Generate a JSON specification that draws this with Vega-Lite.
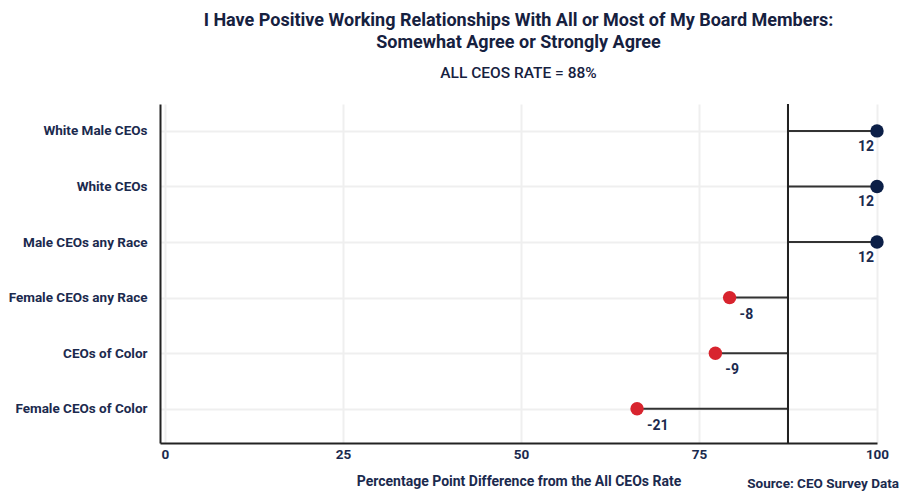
{
  "$schema": "https://vega.github.io/schema/vega-lite/v6.json",
  "autosize": {"type": "none"},
  "padding": {"left": 160, "top": 104, "right": 22, "bottom": 48},
  "width": 717,
  "height": 339,
  "background": "white",
  "title": {
    "text": ["I Have Positive Working Relationships With All or Most of My Board Members:", "Somewhat Agree or Strongly Agree"],
    "subtitle": "ALL CEOS RATE = 88%",
    "anchor": "middle",
    "frame": "group",
    "font": "Roboto",
    "fontSize": 18,
    "fontWeight": "bold",
    "color": "#16213f",
    "lineHeight": 22,
    "subtitleFont": "Roboto",
    "subtitleFontSize": 15.5,
    "subtitleFontWeight": 500,
    "subtitleColor": "#16213f",
    "subtitlePadding": 14,
    "offset": 22
  },
  "config": {
    "view": {"stroke": null},
    "axis": {
      "labelFont": "Roboto",
      "titleFont": "Roboto",
      "labelColor": "#1b2a4e",
      "titleColor": "#1b2a4e",
      "labelFontWeight": "bold",
      "titleFontWeight": "bold",
      "gridColor": "#efefef",
      "gridWidth": 2,
      "domainColor": "#222222",
      "domainWidth": 2,
      "ticks": false
    }
  },
  "data": {
    "values": [
      {"group": "White Male CEOs", "value": 100, "rate": 87.5, "diff": "12", "direction": "above"},
      {"group": "White CEOs", "value": 100, "rate": 87.5, "diff": "12", "direction": "above"},
      {"group": "Male CEOs any Race", "value": 100, "rate": 87.5, "diff": "12", "direction": "above"},
      {"group": "Female CEOs any Race", "value": 79.3, "rate": 87.5, "diff": "-8", "direction": "below"},
      {"group": "CEOs of Color", "value": 77.3, "rate": 87.5, "diff": "-9", "direction": "below"},
      {"group": "Female CEOs of Color", "value": 66.3, "rate": 87.5, "diff": "-21", "direction": "below"}
    ]
  },
  "encoding": {
    "y": {
      "field": "group",
      "type": "nominal",
      "sort": null,
      "scale": {"type": "point", "padding": 0.55, "align": 0.44},
      "axis": {
        "title": null,
        "grid": true,
        "labelFontSize": 13.5,
        "labelPadding": 13
      }
    }
  },
  "layer": [
    {
      "mark": {"type": "rule", "color": "#333333", "strokeWidth": 2},
      "encoding": {
        "x": {
          "field": "rate",
          "type": "quantitative",
          "scale": {"domain": [-0.7, 100], "nice": false, "zero": false},
          "axis": {
            "values": [0, 25, 50, 75, 100],
            "title": "Percentage Point Difference from the All CEOs Rate",
            "titleFontSize": 14,
            "titlePadding": 14,
            "labelFontSize": 13.5,
            "labelPadding": 4,
            "grid": true,
            "labelFlush": false
          }
        },
        "x2": {"field": "value"}
      }
    },
    {
      "mark": {"type": "rule", "color": "#222222", "strokeWidth": 2},
      "encoding": {
        "x": {"datum": 87.5, "type": "quantitative"},
        "y": null
      }
    },
    {
      "mark": {"type": "circle", "size": 180, "opacity": 1},
      "encoding": {
        "x": {"field": "value", "type": "quantitative"},
        "color": {
          "field": "direction",
          "type": "nominal",
          "scale": {"domain": ["above", "below"], "range": ["#0c1f47", "#d8242e"]},
          "legend": null
        }
      }
    },
    {
      "transform": [{"filter": "datum.direction === 'above'"}],
      "mark": {"type": "text", "align": "right", "baseline": "middle", "dx": -3, "dy": 16, "fontSize": 14, "fontWeight": "bold", "color": "#1b2a4e", "font": "Roboto"},
      "encoding": {
        "x": {"field": "value", "type": "quantitative"},
        "text": {"field": "diff"}
      }
    },
    {
      "transform": [{"filter": "datum.direction === 'below'"}],
      "mark": {"type": "text", "align": "left", "baseline": "middle", "dx": 10, "dy": 17, "fontSize": 14, "fontWeight": "bold", "color": "#1b2a4e", "font": "Roboto"},
      "encoding": {
        "x": {"field": "value", "type": "quantitative"},
        "text": {"field": "diff"}
      }
    },
    {
      "data": {"values": [{"source": "Source: CEO Survey Data"}]},
      "mark": {"type": "text", "align": "right", "baseline": "middle", "dx": 22, "dy": 41, "fontSize": 13.5, "fontWeight": "bold", "color": "#1b2a4e", "font": "Roboto"},
      "encoding": {
        "x": {"value": "width"},
        "y": {"value": "height"},
        "text": {"field": "source"}
      }
    }
  ]
}
